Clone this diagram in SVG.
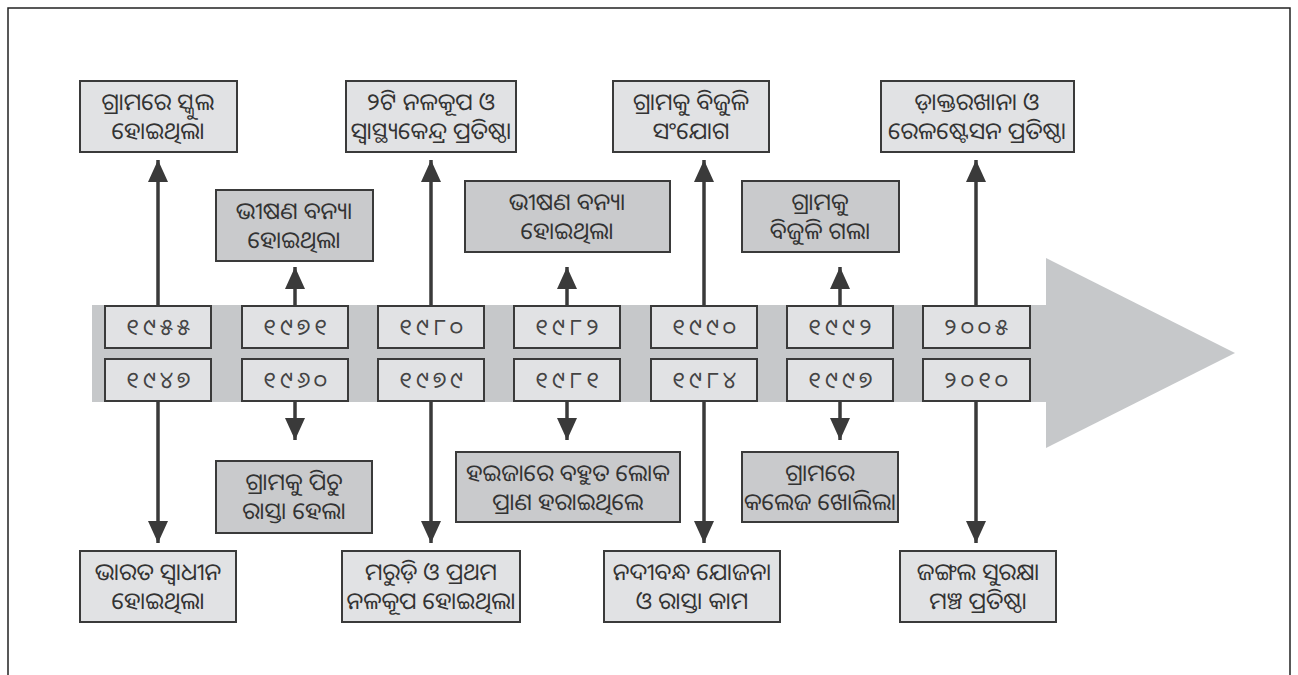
<svg xmlns="http://www.w3.org/2000/svg" width="1298" height="675" viewBox="0 0 1298 675">
<style>
.lt{fill:#e1e2e4;stroke:#3a3a3a;stroke-width:2}
.dk{fill:#c9cacc;stroke:#3a3a3a;stroke-width:2}
.yr{fill:#e1e2e4;stroke:#3a3a3a;stroke-width:2}
.t{font-family:"Noto Sans Oriya","Noto Sans","DejaVu Sans",sans-serif;font-size:23.5px;fill:#333;text-anchor:middle}
.y{font-family:"Noto Sans Oriya","Noto Sans","DejaVu Sans",sans-serif;font-size:23px;fill:#444;text-anchor:middle;letter-spacing:4px}
.c{stroke:#3a3a3a;stroke-width:3.5;fill:none}
</style>
<defs>
<marker id="ah" markerUnits="userSpaceOnUse" markerWidth="22" markerHeight="20" refX="22" refY="10" orient="auto" viewBox="0 0 22 20">
<path d="M0,0 L22,10 L0,20 z" fill="#3a3a3a"/>
</marker>
</defs>
<rect width="1298" height="675" fill="#fff"/>
<path d="M8,675 V8 H1290 V675" fill="none" stroke="#222" stroke-width="1.5"/>

<g id="timeline">
<rect x="92" y="305" width="956" height="97" fill="#c6c8ca"/>
<polygon points="1046,258 1235,353 1046,448" fill="#c6c8ca"/>
</g>

<g id="connectors">
<line class="c" x1="158" y1="306" x2="158" y2="160" marker-end="url(#ah)"/>
<line class="c" x1="158" y1="401" x2="158" y2="543" marker-end="url(#ah)"/>
<line class="c" x1="295" y1="306" x2="295" y2="267" marker-end="url(#ah)"/>
<line class="c" x1="295" y1="401" x2="295" y2="440" marker-end="url(#ah)"/>
<line class="c" x1="431" y1="306" x2="431" y2="160" marker-end="url(#ah)"/>
<line class="c" x1="431" y1="401" x2="431" y2="543" marker-end="url(#ah)"/>
<line class="c" x1="567" y1="306" x2="567" y2="267" marker-end="url(#ah)"/>
<line class="c" x1="567" y1="401" x2="567" y2="440" marker-end="url(#ah)"/>
<line class="c" x1="704" y1="306" x2="704" y2="160" marker-end="url(#ah)"/>
<line class="c" x1="704" y1="401" x2="704" y2="543" marker-end="url(#ah)"/>
<line class="c" x1="840" y1="306" x2="840" y2="267" marker-end="url(#ah)"/>
<line class="c" x1="840" y1="401" x2="840" y2="440" marker-end="url(#ah)"/>
<line class="c" x1="976" y1="306" x2="976" y2="160" marker-end="url(#ah)"/>
<line class="c" x1="976" y1="401" x2="976" y2="543" marker-end="url(#ah)"/>
</g>

<g id="y1955"><rect class="yr" x="105" y="306" width="106" height="42"/><text class="y" x="160" y="335">୧୯୫୫</text></g>
<g id="y1947"><rect class="yr" x="105" y="359" width="106" height="42"/><text class="y" x="160" y="388">୧୯୪୭</text></g>
<g id="y1971"><rect class="yr" x="242" y="306" width="106" height="42"/><text class="y" x="297" y="335">୧୯୭୧</text></g>
<g id="y1960"><rect class="yr" x="242" y="359" width="106" height="42"/><text class="y" x="297" y="388">୧୯୬୦</text></g>
<g id="y1980"><rect class="yr" x="378" y="306" width="106" height="42"/><text class="y" x="433" y="335">୧୯୮୦</text></g>
<g id="y1979"><rect class="yr" x="378" y="359" width="106" height="42"/><text class="y" x="433" y="388">୧୯୭୯</text></g>
<g id="y1982"><rect class="yr" x="514" y="306" width="106" height="42"/><text class="y" x="569" y="335">୧୯୮୨</text></g>
<g id="y1981"><rect class="yr" x="514" y="359" width="106" height="42"/><text class="y" x="569" y="388">୧୯୮୧</text></g>
<g id="y1990"><rect class="yr" x="651" y="306" width="106" height="42"/><text class="y" x="706" y="335">୧୯୯୦</text></g>
<g id="y1984"><rect class="yr" x="651" y="359" width="106" height="42"/><text class="y" x="706" y="388">୧୯୮୪</text></g>
<g id="y1992"><rect class="yr" x="787" y="306" width="106" height="42"/><text class="y" x="842" y="335">୧୯୯୨</text></g>
<g id="y1997"><rect class="yr" x="787" y="359" width="106" height="42"/><text class="y" x="842" y="388">୧୯୯୭</text></g>
<g id="y2005"><rect class="yr" x="923" y="306" width="107" height="42"/><text class="y" x="978" y="335">୨୦୦୫</text></g>
<g id="y2010"><rect class="yr" x="923" y="359" width="107" height="42"/><text class="y" x="978" y="388">୨୦୧୦</text></g>

<g id="t1"><rect class="lt" x="80" y="81" width="157" height="71"/><text class="t" x="158" y="110">ଗ୍ରାମରେ ସ୍କୁଲ</text><text class="t" x="158" y="139">ହୋଇଥିଲା</text></g>
<g id="t3"><rect class="lt" x="346" y="81" width="170" height="71"/><text class="t" x="431" y="110">୨ଟି ନଳକୂପ ଓ</text><text class="t" x="431" y="139">ସ୍ୱାସ୍ଥ୍ୟକେନ୍ଦ୍ର ପ୍ରତିଷ୍ଠା</text></g>
<g id="t5"><rect class="lt" x="613" y="81" width="156" height="71"/><text class="t" x="691" y="110">ଗ୍ରାମକୁ ବିଜୁଳି</text><text class="t" x="691" y="139">ସଂଯୋଗ</text></g>
<g id="t7"><rect class="lt" x="881" y="81" width="193" height="71"/><text class="t" x="977" y="110">ଡ଼ାକ୍ତରଖାନା ଓ</text><text class="t" x="977" y="139">ରେଳଷ୍ଟେସନ ପ୍ରତିଷ୍ଠା</text></g>

<g id="m2"><rect class="dk" x="216" y="190" width="157" height="71"/><text class="t" x="294" y="219">ଭୀଷଣ ବନ୍ୟା</text><text class="t" x="294" y="248">ହୋଇଥିଲା</text></g>
<g id="m4"><rect class="dk" x="465" y="181" width="205" height="71"/><text class="t" x="567" y="210">ଭୀଷଣ ବନ୍ୟା</text><text class="t" x="567" y="239">ହୋଇଥିଲା</text></g>
<g id="m6"><rect class="dk" x="742" y="181" width="157" height="71"/><text class="t" x="820" y="210">ଗ୍ରାମକୁ</text><text class="t" x="820" y="239">ବିଜୁଳି ଗଲା</text></g>

<g id="b2"><rect class="dk" x="216" y="461" width="156" height="72"/><text class="t" x="294" y="490">ଗ୍ରାମକୁ ପିଚୁ</text><text class="t" x="294" y="519">ରାସ୍ତା ହେଲା</text></g>
<g id="b4"><rect class="dk" x="456" y="452" width="224" height="70"/><text class="t" x="568" y="481">ହଇଜାରେ ବହୁତ ଲୋକ</text><text class="t" x="568" y="510">ପ୍ରାଣ ହରାଇଥିଲେ</text></g>
<g id="b6"><rect class="dk" x="742" y="452" width="156" height="70"/><text class="t" x="820" y="481">ଗ୍ରାମରେ</text><text class="t" x="820" y="510">କଲେଜ ଖୋଲିଲା</text></g>

<g id="l1"><rect class="lt" x="80" y="551" width="156" height="71"/><text class="t" x="158" y="580">ଭାରତ ସ୍ୱାଧୀନ</text><text class="t" x="158" y="609">ହୋଇଥିଲା</text></g>
<g id="l3"><rect class="lt" x="342" y="551" width="178" height="71"/><text class="t" x="431" y="580">ମରୁଡ଼ି ଓ ପ୍ରଥମ</text><text class="t" x="431" y="609">ନଳକୂପ ହୋଇଥିଲା</text></g>
<g id="l5"><rect class="lt" x="604" y="551" width="176" height="71"/><text class="t" x="692" y="580">ନଦୀବନ୍ଧ ଯୋଜନା</text><text class="t" x="692" y="609">ଓ ରାସ୍ତା କାମ</text></g>
<g id="l7"><rect class="lt" x="900" y="551" width="156" height="71"/><text class="t" x="978" y="580">ଜଙ୍ଗଲ ସୁରକ୍ଷା</text><text class="t" x="978" y="609">ମଞ୍ଚ ପ୍ରତିଷ୍ଠା</text></g>
</svg>
